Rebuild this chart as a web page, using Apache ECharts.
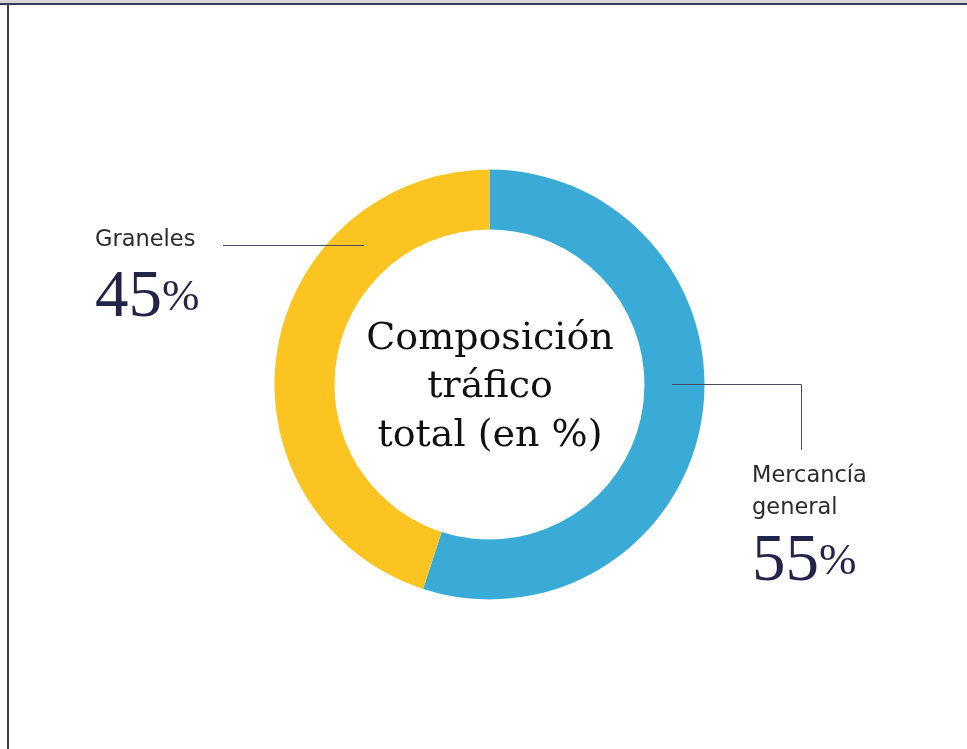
<!DOCTYPE html>
<html>
<head>
<meta charset="utf-8">
<script src="https://cdn.jsdelivr.net/npm/echarts@6/dist/echarts.min.js"></script>
<style>
html,body{margin:0;padding:0;background:#fff;}
#c{width:967px;height:749px;}
</style>
</head>
<body>
<div id="c"></div>
<script>
const categories = ['Mercancía general', 'Graneles'];
const labelTexts = ['Mercancía\ngeneral', 'Graneles'];
const values = [55, 45];
const colors = ['#3AABD6', '#FCC421'];
const centerTitle = 'Composición\ntráfico\ntotal (en %)';

const chart = echarts.init(document.getElementById('c'));
const lineColor = '#4a4a68';
const numColor = '#23244a';
const labelFont = '22.5px "DejaVu Sans"';
const numRich = {
  n: { font: '300 67px "Liberation Serif"', fill: numColor },
  p: { font: '300 45px "Liberation Serif"', fill: numColor }
};

const option = {
  animation: false,
  backgroundColor: '#ffffff',
  series: [{
    type: 'pie',
    center: [489.5, 384.5],
    radius: [155, 215],
    startAngle: 90,
    clockwise: true,
    silent: true,
    z: 1,
    label: { show: false },
    labelLine: { show: false },
    itemStyle: { borderWidth: 0 },
    data: categories.map((c, i) => ({ name: c, value: values[i], itemStyle: { color: colors[i] } }))
  }],
  graphic: [
    // frame
    { type: 'rect', z: 100, shape: { x: 0, y: 0, width: 967, height: 3 }, style: { fill: '#d6d6d6' } },
    { type: 'rect', z: 100, shape: { x: 0, y: 3, width: 967, height: 2 }, style: { fill: '#3a3a5c' } },
    { type: 'rect', z: 100, shape: { x: 7, y: 3, width: 2, height: 746 }, style: { fill: '#3a3a5c' } },
    // center text
    { type: 'text', z: 100, x: 490, y: 387.5, style: { text: centerTitle, font: '38px "DejaVu Serif"', fill: '#111111', align: 'center', verticalAlign: 'middle', lineHeight: 48.5 } },
    // Graneles label
    { type: 'polyline', z: 100, shape: { points: [[223, 245.5], [364, 245.5]] }, style: { stroke: lineColor, lineWidth: 1, fill: null } },
    { type: 'text', z: 100, x: 95, y: 240, style: { text: labelTexts[1], font: labelFont, fill: '#2b2b2b', align: 'left', verticalAlign: 'middle' } },
    { type: 'text', z: 100, x: 95, y: 332, style: { text: '{n|' + values[1] + '}{p|%}', align: 'left', verticalAlign: 'bottom', rich: numRich } },
    // Mercancía label
    { type: 'polyline', z: 100, shape: { points: [[672, 384.5], [801.5, 384.5], [801.5, 450]] }, style: { stroke: lineColor, lineWidth: 1, fill: null } },
    { type: 'text', z: 100, x: 752, y: 492, style: { text: labelTexts[0], font: labelFont, fill: '#2b2b2b', align: 'left', verticalAlign: 'middle', lineHeight: 32 } },
    { type: 'text', z: 100, x: 752, y: 596, style: { text: '{n|' + values[0] + '}{p|%}', align: 'left', verticalAlign: 'bottom', rich: numRich } }
  ]
};
chart.setOption(option);
</script>
</body>
</html>
